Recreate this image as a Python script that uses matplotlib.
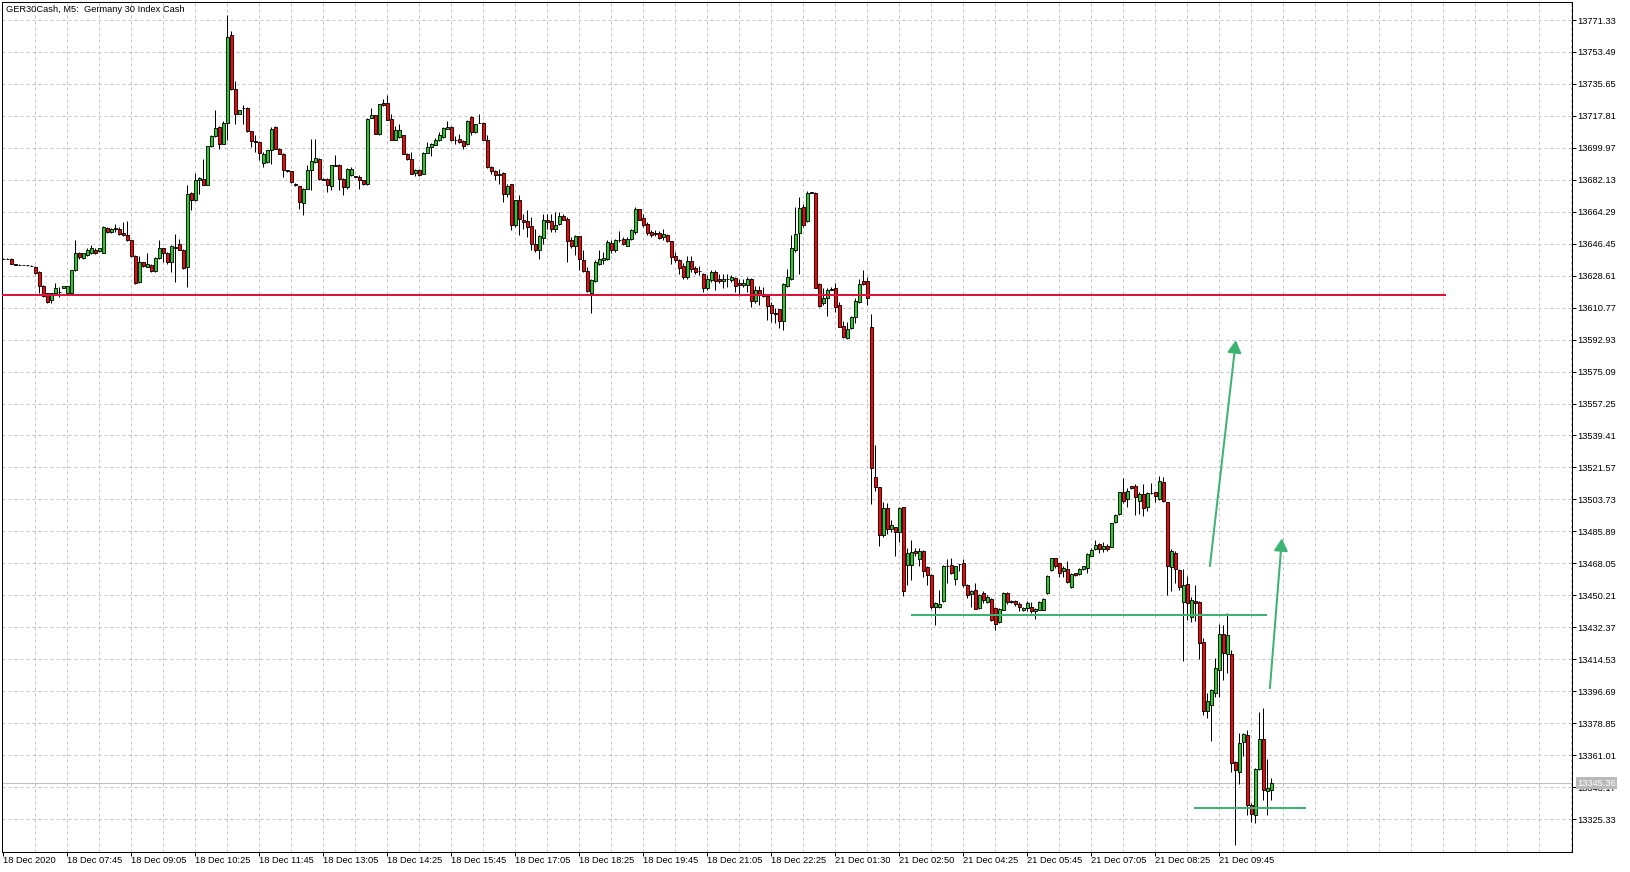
import matplotlib
matplotlib.use("Agg")
import matplotlib.pyplot as plt
import matplotlib.transforms as mtransforms
from matplotlib.patches import Rectangle
from matplotlib.collections import PatchCollection, LineCollection

plt.rcParams['font.family'] = ['Liberation Sans', 'DejaVu Sans']

# ---------------- data (GER30Cash M5 candles) ----------------
open_ = [
 13638.2, 13638.2, 13637.8, 13634.9, 13634.8, 13634.6, 13634.4, 13634.2, 13633.5, 13630.8,
 13622.9, 13618.7, 13615.0, 13618.7, 13619.7, 13622.0, 13618.7, 13618.7, 13631.7, 13641.0,
 13638.7, 13640.0, 13641.0, 13642.8, 13642.5, 13641.5, 13655.3, 13653.1, 13655.0, 13654.9,
 13652.7, 13651.6, 13648.4, 13639.5, 13625.2, 13636.0, 13633.5, 13634.8, 13631.3, 13638.7,
 13643.8, 13641.5, 13636.0, 13643.8, 13646.5, 13643.2, 13633.5, 13675.0, 13670.7, 13681.9,
 13682.8, 13679.4, 13700.8, 13706.4, 13711.6, 13702.3, 13714.0, 13762.7, 13733.0, 13719.0,
 13722.4, 13722.4, 13709.2, 13703.8, 13703.2, 13691.7, 13692.1, 13698.6, 13711.6, 13699.5,
 13696.7, 13687.4, 13686.9, 13680.0, 13678.5, 13669.4, 13677.2, 13687.4, 13692.1, 13693.6,
 13682.8, 13682.8, 13678.7, 13690.2, 13690.2, 13682.8, 13678.1, 13684.6, 13684.1, 13683.7,
 13681.9, 13680.0, 13716.8, 13718.1, 13707.9, 13725.0, 13725.0, 13716.2, 13704.5, 13706.0,
 13707.0, 13696.7, 13693.6, 13685.9, 13687.8, 13685.6, 13697.3, 13700.4, 13701.7, 13704.2,
 13706.0, 13710.7, 13711.6, 13704.5, 13705.1, 13703.8, 13701.9, 13717.2, 13708.8, 13714.0,
 13714.0, 13704.5, 13689.3, 13687.1, 13684.6, 13685.9, 13674.4, 13679.6, 13657.1, 13671.1,
 13659.9, 13659.0, 13656.2, 13646.2, 13642.8, 13649.7, 13659.9, 13659.0, 13654.5, 13657.7,
 13661.8, 13660.1, 13648.4, 13645.1, 13650.6, 13637.3, 13631.3, 13618.7, 13625.6, 13635.0,
 13637.3, 13637.8, 13646.9, 13642.8, 13648.8, 13649.0, 13645.2, 13649.0, 13653.1, 13665.7,
 13661.0, 13657.7, 13653.1, 13652.7, 13652.5, 13650.3, 13651.6, 13647.9, 13639.5, 13637.6,
 13633.9, 13627.6, 13636.7, 13633.0, 13631.3, 13629.8, 13621.5, 13626.1, 13630.4, 13626.7,
 13625.7, 13626.7, 13626.1, 13627.4, 13624.6, 13623.3, 13623.3, 13627.0, 13614.6, 13620.5,
 13617.7, 13617.4, 13612.2, 13607.9, 13609.8, 13603.4, 13623.0, 13627.0, 13642.8, 13652.7,
 13667.0, 13659.2, 13675.1, 13675.0, 13623.9, 13613.1, 13616.4, 13621.1, 13621.8, 13612.2,
 13600.5, 13593.6, 13599.2, 13605.3, 13614.0, 13625.5, 13625.5, 13599.7, 13516.5, 13510.5,
 13483.6, 13498.8, 13487.1, 13488.2, 13485.8, 13499.4, 13466.9, 13466.9, 13475.2, 13470.4,
 13475.0, 13465.9, 13461.6, 13443.4, 13443.4, 13447.2, 13466.7, 13467.2, 13459.2, 13467.6,
 13468.2, 13456.1, 13450.9, 13452.9, 13443.1, 13451.4, 13446.4, 13448.1, 13443.1, 13435.1,
 13442.1, 13451.4, 13446.8, 13447.2, 13445.3, 13441.8, 13443.1, 13443.4, 13441.2, 13442.1,
 13442.1, 13451.4, 13464.1, 13470.9, 13468.1, 13463.5, 13464.8, 13454.6, 13462.6, 13462.0,
 13465.0, 13465.4, 13472.4, 13476.0, 13478.7, 13476.0, 13477.8, 13477.4, 13491.0, 13495.5,
 13507.7, 13503.8, 13511.3, 13511.4, 13503.1, 13506.6, 13499.7, 13507.5, 13507.7, 13503.8,
 13513.3, 13502.2, 13465.9, 13473.7, 13464.4, 13446.4, 13456.4, 13438.0, 13447.3, 13446.4,
 13424.1, 13385.5, 13388.8, 13395.7, 13408.3, 13428.7, 13417.4, 13417.4, 13357.2, 13351.6,
 13368.2, 13372.1, 13333.4, 13327.5, 13353.5, 13370.0, 13341.2, 13341.8]

high = [
 13638.4, 13638.4, 13638.7, 13635.0, 13635.0, 13634.7, 13634.5, 13634.3, 13634.1, 13631.3,
 13623.3, 13619.0, 13619.0, 13624.6, 13622.4, 13623.1, 13623.1, 13632.0, 13648.4, 13641.9,
 13641.5, 13643.8, 13645.6, 13643.8, 13644.3, 13656.2, 13655.8, 13655.3, 13657.7, 13655.8,
 13658.6, 13659.0, 13648.8, 13639.9, 13639.5, 13636.3, 13641.0, 13635.4, 13639.1, 13648.4,
 13644.1, 13641.9, 13645.6, 13652.1, 13649.3, 13643.6, 13679.1, 13675.3, 13685.9, 13683.7,
 13693.9, 13701.2, 13707.0, 13720.9, 13711.9, 13714.9, 13774.4, 13765.1, 13737.2, 13721.2,
 13723.7, 13722.7, 13709.5, 13707.0, 13703.6, 13697.6, 13698.9, 13711.6, 13711.9, 13699.9,
 13697.1, 13687.6, 13687.2, 13680.4, 13678.9, 13677.6, 13690.2, 13705.1, 13705.1, 13694.5,
 13683.2, 13683.2, 13690.6, 13695.8, 13691.1, 13683.2, 13688.7, 13689.3, 13684.5, 13684.6,
 13682.2, 13716.6, 13722.4, 13718.5, 13724.6, 13727.4, 13729.2, 13719.0, 13711.9, 13713.4,
 13707.3, 13697.1, 13697.6, 13688.2, 13688.2, 13697.6, 13703.2, 13702.7, 13705.5, 13708.8,
 13711.4, 13714.7, 13711.9, 13706.4, 13707.9, 13704.2, 13715.3, 13717.5, 13713.4, 13719.0,
 13714.4, 13707.0, 13689.7, 13687.4, 13688.4, 13686.3, 13680.0, 13680.0, 13671.1, 13673.5,
 13663.3, 13665.5, 13661.4, 13654.9, 13651.2, 13663.3, 13663.3, 13663.3, 13664.2, 13664.2,
 13663.3, 13661.4, 13650.3, 13651.2, 13651.0, 13642.8, 13633.5, 13626.5, 13637.3, 13642.8,
 13641.9, 13648.4, 13648.4, 13649.3, 13653.4, 13650.3, 13650.3, 13654.9, 13667.0, 13666.1,
 13663.3, 13658.6, 13654.0, 13654.0, 13653.6, 13654.4, 13652.1, 13648.2, 13641.9, 13638.2,
 13635.8, 13639.5, 13639.5, 13633.9, 13633.9, 13630.2, 13628.9, 13631.7, 13631.7, 13629.8,
 13629.8, 13629.5, 13628.9, 13627.8, 13626.5, 13627.0, 13627.6, 13627.4, 13622.8, 13622.8,
 13622.4, 13617.7, 13614.0, 13610.3, 13610.1, 13624.3, 13632.6, 13651.2, 13667.0, 13672.6,
 13668.9, 13675.9, 13675.2, 13675.2, 13624.3, 13621.5, 13622.0, 13622.4, 13624.6, 13614.0,
 13603.2, 13602.9, 13606.0, 13616.4, 13626.5, 13632.0, 13628.0, 13607.2, 13534.1, 13510.9,
 13502.2, 13501.6, 13492.3, 13488.6, 13499.4, 13499.7, 13476.5, 13481.2, 13476.5, 13476.5,
 13475.4, 13466.3, 13462.0, 13446.2, 13453.3, 13467.2, 13470.6, 13470.9, 13466.7, 13467.7,
 13470.6, 13456.4, 13453.3, 13457.0, 13450.9, 13452.4, 13450.5, 13448.5, 13443.4, 13442.9,
 13451.8, 13451.8, 13447.7, 13447.7, 13446.2, 13443.4, 13446.8, 13446.2, 13443.1, 13446.8,
 13448.5, 13461.6, 13471.3, 13471.3, 13468.5, 13466.3, 13469.1, 13462.6, 13462.9, 13465.7,
 13466.8, 13473.7, 13476.5, 13480.8, 13479.3, 13480.2, 13478.9, 13490.8, 13495.5, 13508.1,
 13515.5, 13510.0, 13511.4, 13512.4, 13508.1, 13512.4, 13508.1, 13512.7, 13508.1, 13516.8,
 13516.5, 13502.5, 13475.9, 13475.2, 13465.0, 13465.0, 13461.1, 13449.0, 13456.1, 13446.8,
 13426.3, 13395.7, 13397.9, 13415.2, 13434.3, 13433.8, 13440.3, 13419.5, 13357.6, 13373.4,
 13373.4, 13375.2, 13334.3, 13353.9, 13385.1, 13387.3, 13358.9, 13348.3]

low = [
 13638.0, 13637.8, 13635.0, 13634.6, 13634.6, 13634.3, 13634.1, 13633.9, 13629.8, 13618.7,
 13616.8, 13613.1, 13613.1, 13618.3, 13616.8, 13621.6, 13618.3, 13618.3, 13631.3, 13638.2,
 13638.2, 13639.5, 13640.6, 13640.6, 13642.1, 13641.2, 13652.7, 13652.7, 13653.1, 13651.2,
 13650.6, 13648.0, 13639.1, 13624.2, 13624.6, 13633.5, 13633.2, 13630.8, 13630.8, 13638.2,
 13636.3, 13635.4, 13630.8, 13625.2, 13642.8, 13632.6, 13622.4, 13665.1, 13670.3, 13674.4,
 13679.1, 13679.1, 13700.4, 13706.0, 13699.5, 13701.9, 13704.2, 13732.0, 13713.1, 13718.6,
 13713.4, 13708.8, 13700.4, 13697.6, 13693.0, 13689.3, 13691.7, 13691.1, 13699.1, 13696.3,
 13683.7, 13686.7, 13680.5, 13678.7, 13666.1, 13662.3, 13676.8, 13676.3, 13691.7, 13682.2,
 13681.9, 13675.3, 13676.6, 13689.8, 13676.3, 13673.5, 13677.2, 13684.3, 13683.7, 13677.2,
 13679.3, 13679.1, 13716.4, 13707.5, 13707.0, 13723.3, 13715.3, 13704.2, 13704.2, 13705.6,
 13696.3, 13693.2, 13685.2, 13684.1, 13684.3, 13685.2, 13696.9, 13695.2, 13701.4, 13703.8,
 13705.6, 13710.3, 13703.8, 13702.3, 13702.9, 13699.1, 13701.5, 13707.3, 13708.2, 13713.6,
 13704.2, 13688.9, 13685.6, 13681.9, 13680.0, 13669.8, 13672.6, 13654.0, 13655.8, 13651.2,
 13654.9, 13650.3, 13642.8, 13641.9, 13638.2, 13646.5, 13654.9, 13653.1, 13653.1, 13656.8,
 13659.5, 13636.3, 13643.8, 13640.0, 13631.7, 13630.9, 13619.6, 13607.9, 13625.2, 13634.5,
 13635.4, 13637.3, 13641.0, 13641.9, 13647.5, 13645.6, 13645.1, 13648.4, 13652.1, 13659.5,
 13655.8, 13651.2, 13650.3, 13650.6, 13649.3, 13648.8, 13647.5, 13635.4, 13636.3, 13629.8,
 13627.0, 13627.0, 13630.8, 13629.5, 13628.9, 13619.6, 13620.9, 13625.2, 13620.9, 13624.3,
 13621.5, 13622.4, 13625.2, 13619.6, 13617.2, 13622.4, 13619.6, 13611.2, 13613.5, 13612.2,
 13616.8, 13603.8, 13602.9, 13602.0, 13599.2, 13598.2, 13622.4, 13626.1, 13641.9, 13629.8,
 13655.8, 13658.6, 13674.8, 13621.5, 13611.2, 13612.2, 13606.2, 13620.5, 13608.5, 13599.7,
 13593.6, 13593.0, 13598.6, 13602.3, 13613.1, 13623.3, 13612.2, 13501.0, 13508.7, 13478.0,
 13483.0, 13484.5, 13485.8, 13471.9, 13480.2, 13449.6, 13455.7, 13458.9, 13472.2, 13466.3,
 13460.7, 13456.1, 13442.5, 13433.8, 13443.1, 13446.4, 13457.0, 13462.0, 13456.1, 13463.5,
 13455.1, 13448.6, 13443.6, 13442.5, 13442.5, 13445.9, 13445.9, 13435.6, 13431.0, 13434.7,
 13441.8, 13445.3, 13445.9, 13444.4, 13441.2, 13441.2, 13441.2, 13440.3, 13436.9, 13441.8,
 13441.8, 13450.9, 13463.7, 13465.4, 13460.7, 13460.7, 13457.0, 13454.2, 13460.9, 13461.6,
 13464.4, 13462.6, 13471.9, 13475.6, 13473.7, 13474.6, 13475.2, 13477.1, 13490.8, 13495.1,
 13501.6, 13499.4, 13509.4, 13495.1, 13495.5, 13494.2, 13497.5, 13506.8, 13502.5, 13503.5,
 13502.3, 13450.5, 13452.4, 13457.0, 13452.9, 13413.3, 13436.6, 13435.1, 13436.0, 13414.6,
 13383.6, 13381.7, 13368.7, 13393.4, 13393.4, 13403.1, 13406.8, 13351.6, 13310.7, 13344.6,
 13360.7, 13327.8, 13323.6, 13323.2, 13352.9, 13335.8, 13327.8, 13335.8]

close = [
 13638.2, 13638.0, 13635.4, 13634.8, 13634.8, 13634.5, 13634.3, 13634.1, 13630.2, 13622.9,
 13617.2, 13614.0, 13618.7, 13621.5, 13619.5, 13622.8, 13622.8, 13631.7, 13641.0, 13639.1,
 13641.0, 13642.8, 13643.8, 13641.5, 13643.8, 13655.8, 13653.1, 13654.9, 13654.8, 13652.1,
 13651.2, 13648.4, 13639.5, 13624.6, 13636.3, 13634.1, 13635.4, 13631.3, 13638.7, 13643.8,
 13641.5, 13636.0, 13645.1, 13644.7, 13643.2, 13633.0, 13674.4, 13670.7, 13681.9, 13683.2,
 13679.4, 13700.8, 13706.4, 13711.2, 13701.9, 13714.0, 13762.1, 13733.0, 13719.0, 13720.9,
 13722.2, 13709.2, 13703.8, 13703.5, 13697.3, 13696.7, 13698.6, 13710.7, 13699.5, 13696.7,
 13687.4, 13687.1, 13680.9, 13679.1, 13669.8, 13677.2, 13687.4, 13692.4, 13694.3, 13682.8,
 13682.2, 13679.1, 13690.2, 13690.0, 13682.8, 13678.1, 13688.4, 13688.4, 13683.9, 13682.2,
 13679.6, 13716.2, 13718.1, 13707.9, 13724.2, 13723.7, 13715.7, 13704.5, 13709.7, 13709.7,
 13696.7, 13693.6, 13685.6, 13687.8, 13684.6, 13697.3, 13700.4, 13702.3, 13704.2, 13707.0,
 13711.0, 13711.6, 13704.2, 13704.3, 13703.2, 13701.0, 13714.9, 13708.8, 13713.1, 13713.8,
 13704.5, 13689.3, 13687.1, 13684.6, 13685.6, 13674.4, 13678.5, 13657.1, 13670.7, 13660.5,
 13658.6, 13655.8, 13646.5, 13642.8, 13650.6, 13659.9, 13658.6, 13654.9, 13657.1, 13661.8,
 13659.9, 13648.0, 13645.2, 13650.8, 13637.8, 13631.3, 13620.2, 13626.1, 13636.3, 13638.2,
 13638.6, 13647.5, 13642.8, 13648.4, 13648.6, 13646.2, 13649.3, 13654.0, 13665.7, 13659.9,
 13656.8, 13652.5, 13651.6, 13651.8, 13649.9, 13652.1, 13647.9, 13639.1, 13637.3, 13633.0,
 13627.6, 13636.7, 13632.2, 13630.4, 13631.1, 13621.5, 13626.5, 13630.4, 13625.7, 13625.7,
 13626.7, 13626.5, 13627.6, 13622.8, 13623.3, 13624.6, 13627.0, 13614.6, 13620.5, 13617.7,
 13617.5, 13611.8, 13607.9, 13607.0, 13603.4, 13623.9, 13627.6, 13643.8, 13651.8, 13666.6,
 13656.8, 13675.0, 13674.9, 13622.0, 13611.6, 13616.3, 13620.9, 13620.9, 13610.9, 13600.1,
 13594.5, 13598.6, 13605.3, 13614.4, 13623.9, 13624.2, 13615.9, 13521.1, 13510.5, 13484.0,
 13498.8, 13487.1, 13489.5, 13485.4, 13498.8, 13452.4, 13473.7, 13474.3, 13473.7, 13475.0,
 13463.5, 13461.3, 13443.4, 13445.9, 13445.5, 13466.7, 13466.5, 13462.6, 13466.3, 13467.4,
 13455.7, 13450.1, 13452.4, 13442.7, 13450.5, 13447.7, 13449.2, 13436.2, 13434.3, 13442.5,
 13451.4, 13446.2, 13446.6, 13445.3, 13443.4, 13443.1, 13445.9, 13441.2, 13442.7, 13446.4,
 13448.1, 13461.1, 13470.9, 13466.3, 13462.9, 13465.4, 13457.4, 13462.2, 13461.3, 13465.0,
 13466.3, 13473.2, 13475.6, 13478.4, 13476.0, 13477.8, 13476.0, 13490.4, 13495.1, 13507.7,
 13503.1, 13508.5, 13510.0, 13504.9, 13506.6, 13498.8, 13507.2, 13507.3, 13505.7, 13514.2,
 13502.7, 13466.8, 13475.0, 13465.0, 13455.1, 13456.1, 13445.8, 13447.7, 13445.8, 13423.5,
 13385.5, 13391.4, 13397.5, 13409.6, 13428.7, 13418.0, 13428.2, 13356.6, 13352.6, 13367.8,
 13372.8, 13333.0, 13328.4, 13353.3, 13370.0, 13341.4, 13342.7, 13345.36]

x_labels = ["18 Dec 2020", "18 Dec 07:45", "18 Dec 09:05", "18 Dec 10:25", "18 Dec 11:45",
            "18 Dec 13:05", "18 Dec 14:25", "18 Dec 15:45", "18 Dec 17:05", "18 Dec 18:25",
            "18 Dec 19:45", "18 Dec 21:05", "18 Dec 22:25", "21 Dec 01:30", "21 Dec 02:50",
            "21 Dec 04:25", "21 Dec 05:45", "21 Dec 07:05", "21 Dec 08:25", "21 Dec 09:45"]
bars_per_label = 16
y_ticks = [13325.33, 13343.17, 13361.01, 13378.85, 13396.69, 13414.53, 13432.37, 13450.21,
           13468.05, 13485.89, 13503.73, 13521.57, 13539.41, 13557.25, 13575.09, 13592.93,
           13610.77, 13628.61, 13646.45, 13664.29, 13682.13, 13699.97, 13717.81, 13735.65,
           13753.49, 13771.33]
current_price = 13345.36

# drawn objects (bar index, price)
red_level = 13618.0
red_span = (-0.25, 360.6)
green_levels = [13439.0, 13331.4]
green_spans = [(226.9, 315.8), (297.6, 325.6)]
arrows = [((301.6, 13466.5), (308.1, 13592.6)),
          ((316.6, 13398.3), (319.6, 13482.0))]

title = "GER30Cash, M5:  Germany 30 Index Cash"

# ---------------- figure ----------------
W, H = 1631, 872
fig = plt.figure(figsize=(W / 100, H / 100), dpi=100)
fig.patch.set_facecolor('white')
ax_l, ax_r, ax_t, ax_b = 2.5, 1572.5, 2.5, 851.5
ax = fig.add_axes([ax_l / W, 1 - ax_b / H, (ax_r - ax_l) / W, (ax_b - ax_t) / H])
ax.set_facecolor('white')

PX = 4.0   # pixels per bar
X0 = 3.5   # pixel of bar 0
xlim = ((ax_l - X0) / PX, (ax_r - X0) / PX)
ylim = (13307.2, 13781.1)

grid_kw = dict(color='#c3c3c3', lw=0.72, ls=(0, (3, 3)), zorder=0)
for v in y_ticks:
    ax.axhline(v, **grid_kw)
b = 8
while b < xlim[1]:
    ax.axvline(b, **grid_kw)
    b += 8

# current price line
ax.axhline(current_price, color='#c0c0c0', lw=0.8, zorder=0.5)

# candles
n = len(close)
GREEN = '#22d022'
RED = '#ff0000'
wicks = [[(i, low[i]), (i, high[i])] for i in range(n)]
ax.add_collection(LineCollection(wicks, colors='black', linewidths=0.72, zorder=2))
rects, fcs = [], []
for i in range(n):
    o, c = open_[i], close[i]
    rects.append(Rectangle((i - 0.27, min(o, c)), 0.54, abs(c - o)))
    fcs.append(GREEN if c >= o else RED)
pc = PatchCollection(rects, facecolors=fcs, edgecolors='black', linewidths=0.62, zorder=3)
ax.add_collection(pc)

# objects
ax.plot(red_span, [red_level, red_level], color='#dc143c', lw=1.44, zorder=4,
        solid_capstyle='butt')
for lvl, (a, bb) in zip(green_levels, green_spans):
    ax.plot([a, bb], [lvl, lvl], color='#3cb371', lw=1.44, zorder=4, solid_capstyle='butt')
for (tail, tip) in arrows:
    ax.annotate('', xy=tip, xytext=tail,
                arrowprops=dict(arrowstyle='-|>,head_length=0.75,head_width=0.42',
                                color='#3cb371', lw=1.44, shrinkA=0, shrinkB=0,
                                mutation_scale=10), zorder=4)

ax.set_xlim(*xlim)
ax.set_ylim(*ylim)

# axes & ticks
for s in ax.spines.values():
    s.set_color('black')
    s.set_linewidth(0.72)
ax.yaxis.tick_right()
ax.set_yticks(y_ticks)
ax.set_yticklabels([f"{v:.2f}" for v in y_ticks])
ax.tick_params(axis='y', direction='out', length=2.9, width=0.72, pad=0.6,
               labelsize=6.7, colors='black')
ax.set_xticks([bars_per_label * k for k in range(len(x_labels))])
ax.set_xticklabels(x_labels, ha='left')
ax.tick_params(axis='x', direction='out', length=2.9, width=0.72, pad=0.0,
               labelsize=6.7, colors='black')

# current price label
trans = mtransforms.blended_transform_factory(fig.transFigure, ax.transData)
ax.text(1577 / W, current_price, f"{current_price:.2f}", transform=trans,
        fontsize=6.7, color='white', va='center', ha='left', clip_on=False, zorder=6,
        bbox=dict(boxstyle='square,pad=0.15', fc='#b9b9b9', ec='none'))

fig.text(6 / W, 1 - 10 / H, title, fontsize=6.7, va='center', ha='left', color='black')

fig.savefig('out.png', dpi=100, facecolor='white')
